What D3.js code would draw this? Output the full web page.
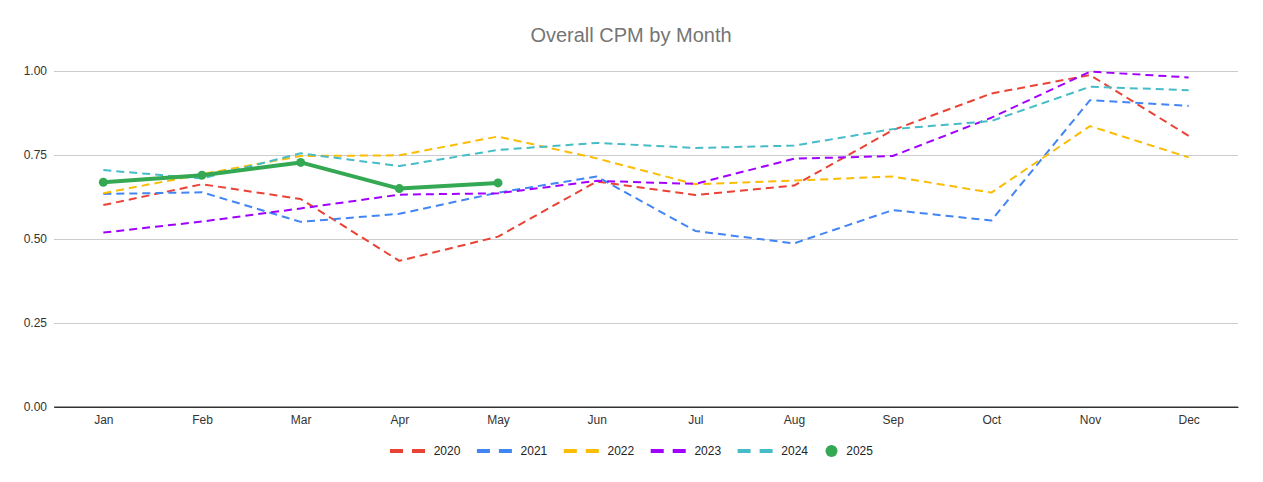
<!DOCTYPE html>
<html><head><meta charset="utf-8">
<script src="https://cdn.jsdelivr.net/npm/d3@7"></script>
<style>body{margin:0;background:#fff}svg{display:block}text{font-family:"Liberation Sans",Arial,sans-serif}</style>
</head><body><svg id="c" width="1263" height="482"></svg>
<script>
const months = ["Jan","Feb","Mar","Apr","May","Jun","Jul","Aug","Sep","Oct","Nov","Dec"];
const yTicks = [0, 0.25, 0.5, 0.75, 1.0];
const years = ["2020","2021","2022","2023","2024","2025"];
const colors = ["#ea4335","#4285f4","#fbbc04","#a100ff","#46bdc6","#34a853"];
const v2020 = [0.601,0.663,0.619,0.435,0.507,0.671,0.631,0.659,0.824,0.933,0.988,0.807];
const v2021 = [0.634,0.639,0.551,0.575,0.638,0.686,0.524,0.487,0.586,0.555,0.913,0.896];
const v2022 = [0.636,0.693,0.747,0.749,0.805,0.740,0.663,0.674,0.686,0.638,0.836,0.743];
const v2023 = [0.519,0.552,0.591,0.632,0.636,0.673,0.664,0.739,0.747,0.861,0.998,0.981];
const v2024 = [0.705,0.680,0.755,0.717,0.765,0.786,0.771,0.778,0.827,0.851,0.953,0.943];
const v2025 = [0.669,0.690,0.728,0.650,0.667];
const series = [v2020,v2021,v2022,v2023,v2024,v2025];

const svg = d3.select("#c");
const x = d3.scalePoint().domain(months).range([54,1238]).padding(0.5);
const y = d3.scaleLinear().domain([0,1]).range([407,71]);

svg.append("text").attr("x",631).attr("y",42).attr("text-anchor","middle")
  .attr("font-size",20).attr("fill","#757575").text("Overall CPM by Month");

const ya = svg.append("g").attr("transform","translate(54,0)")
  .call(d3.axisLeft(y).tickValues(yTicks).tickFormat(d3.format(".2f")).tickSize(-1184).tickPadding(7));
ya.select(".domain").remove();
ya.selectAll(".tick line").attr("stroke","#cccccc");
ya.selectAll(".tick text").attr("font-size",12).attr("fill","#333").attr("font-family","Liberation Sans, Arial, sans-serif");

const xa = svg.append("g").attr("transform","translate(0,407)")
  .call(d3.axisBottom(x).tickSize(0).tickPadding(8));
xa.select(".domain").attr("stroke","#333");
xa.selectAll(".tick text").attr("font-size",12).attr("fill","#333").attr("font-family","Liberation Sans, Arial, sans-serif");
svg.append("line").attr("x1",54).attr("x2",1238).attr("y1",y(0)).attr("y2",y(0)).attr("stroke","#333");

const line = d3.line().x((d,i)=>x(months[i])).y(d=>y(d));
series.forEach((s,k)=>{
  const last = k===5;
  svg.append("path").datum(s).attr("d",line).attr("fill","none")
    .attr("stroke",colors[k]).attr("stroke-width",last?4:2)
    .attr("stroke-dasharray",last?null:"8,5").attr("stroke-linejoin","round");
  if(last){
    svg.selectAll(null).data(s).enter().append("circle")
      .attr("cx",(d,i)=>x(months[i])).attr("cy",d=>y(d)).attr("r",4.5).attr("fill",colors[k]);
  }
});

// legend
const lg = svg.append("g");
let lx = 390; const ly = 451;
years.forEach((yr,k)=>{
  if(k<5){
    lg.append("line").attr("x1",lx).attr("x2",lx+35).attr("y1",ly).attr("y2",ly)
      .attr("stroke",colors[k]).attr("stroke-width",4).attr("stroke-dasharray","13,9");
    lx += 43.7;
  } else {
    lg.append("circle").attr("cx",lx+7).attr("cy",ly).attr("r",6).attr("fill",colors[k]);
    lx += 21.7;
  }
  const t = lg.append("text").attr("x",lx).attr("y",ly+4).attr("font-size",12).attr("fill","#222").text(yr);
  lx += t.node().getComputedTextLength() + 16.5;
});
</script></body></html>
